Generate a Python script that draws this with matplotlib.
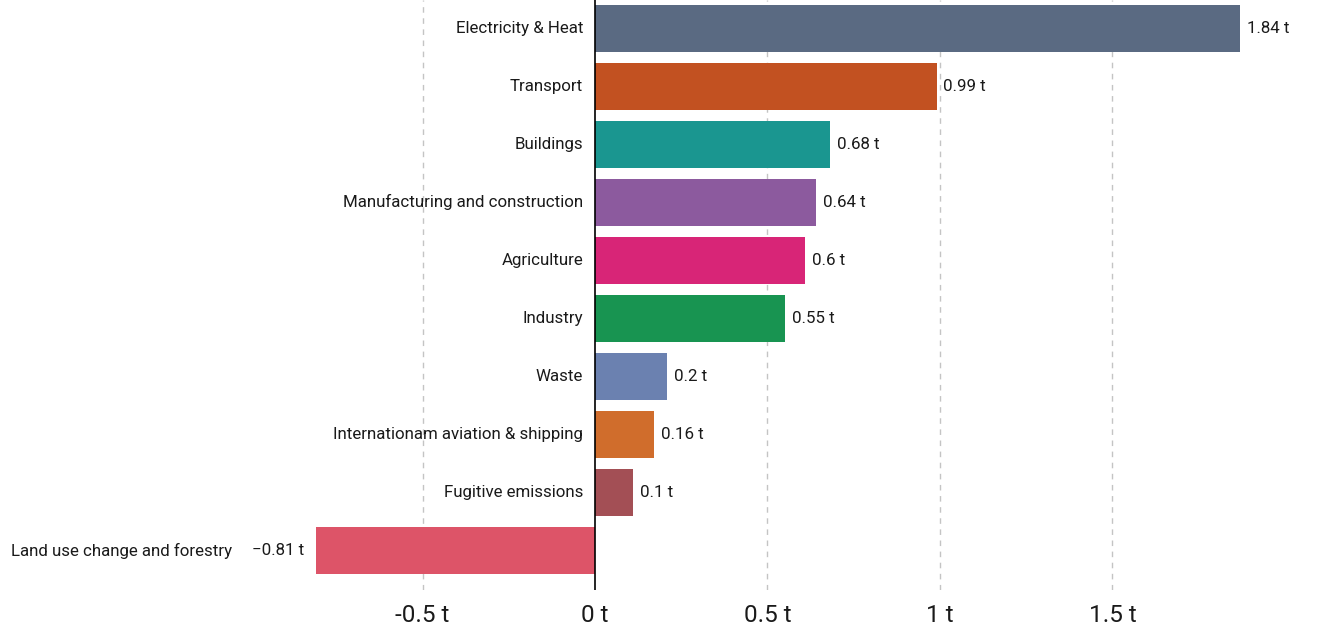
import matplotlib
matplotlib.use("Agg")
import matplotlib.pyplot as plt
from matplotlib import font_manager

names = {f.name for f in font_manager.fontManager.ttflist}
FAM = ['Liberation Sans Narrow', 'Roboto', 'DejaVu Sans']
FAM = [f for f in FAM if f in names] or ['DejaVu Sans']
plt.rcParams['font.family'] = FAM

categories = ["Electricity & Heat", "Transport", "Buildings",
              "Manufacturing and construction", "Agriculture", "Industry",
              "Waste", "Internationam aviation & shipping",
              "Fugitive emissions", "Land use change and forestry"]
values = [1.87, 0.99, 0.68, 0.64, 0.61, 0.55, 0.21, 0.17, 0.11, -0.81]
value_labels = ["1.84 t", "0.99 t", "0.68 t", "0.64 t", "0.6 t", "0.55 t",
                "0.2 t", "0.16 t", "0.1 t", "\u22120.81 t"]
colors = ["#5a6a82", "#c25121", "#1a9690", "#8c5a9e", "#d82577",
          "#189451", "#6b81b0", "#d06d2c", "#a34f55", "#dd5468"]
xticks = [-0.5, 0, 0.5, 1, 1.5]
xtick_labels = ["-0.5 t", "0 t", "0.5 t", "1 t", "1.5 t"]

fig = plt.figure(figsize=(13.18, 6.30), dpi=100)
ax = fig.add_axes([0, 1 - 590 / 630, 1, 590 / 630])

y = list(range(len(categories)))
ax.barh(y, values, height=0.81, color=colors, zorder=2)

ax.set_xlim(-1.725, 2.096)
ax.set_ylim(9.68, -0.49)

for gx in xticks:
    if gx != 0:
        ax.axvline(gx, color="#c4c4c4", lw=1.0, ls=(0, (4, 4)), zorder=1)
ax.axvline(0, color="black", lw=1.2, zorder=3)

ax.set_xticks(xticks)
ax.set_xticklabels(xtick_labels)
ax.tick_params(axis='x', length=0, labelsize=17.5, pad=10, colors="#1a1a1a")
ax.set_yticks([])
for s in ax.spines.values():
    s.set_visible(False)

fs = 12.2
tc = "#1a1a1a"
for yi, v, cat, vl in zip(y, values, categories, value_labels):
    if v >= 0:
        ax.annotate(vl, xy=(v, yi), xytext=(5, 0), textcoords='offset points',
                    ha='left', va='center', fontsize=fs, color=tc)
        ax.annotate(cat, xy=(0, yi), xytext=(-8.5, 0), textcoords='offset points',
                    ha='right', va='center', fontsize=fs, color=tc)
    else:
        vt = ax.annotate(vl, xy=(v, yi), xytext=(-8.5, 0), textcoords='offset points',
                         ha='right', va='center', fontsize=fs, color=tc)
        ax.annotate(cat, xy=(0, 0.5), xycoords=vt, xytext=(-14, 0),
                    textcoords='offset points', ha='right', va='center',
                    fontsize=fs, color=tc)

fig.savefig("out.png", dpi=100)
